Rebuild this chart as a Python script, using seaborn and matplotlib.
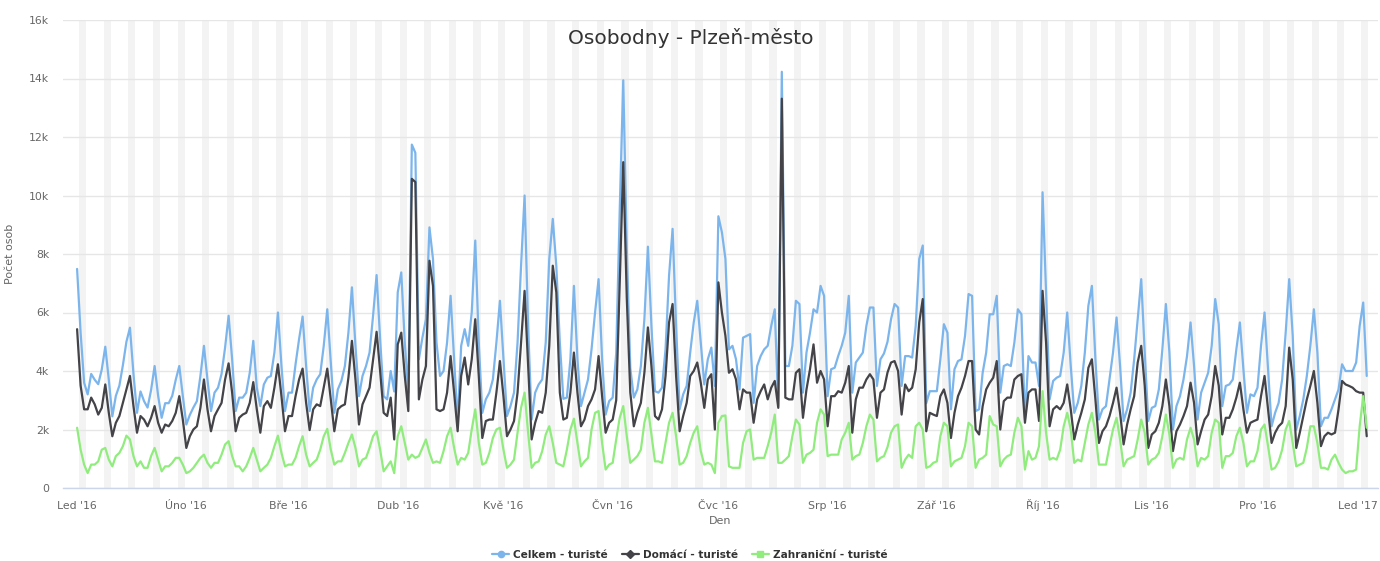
import seaborn as sns
import matplotlib.pyplot as plt
import matplotlib.transforms as mtransforms
import pandas as pd
from matplotlib.lines import Line2D

# denní počty osob v tisících, 1. 1. 2016 - 1. 1. 2017
celkem_k = [
    7.49, 5.3, 3.6, 3.2, 3.9, 3.7, 3.55,
    4.05, 4.83, 3.7, 2.45, 3.15, 3.5, 4.2,
    5.0, 5.48, 3.9, 2.57, 3.3, 2.97, 2.75,
    3.35, 4.17, 3.15, 2.4, 2.9, 2.9, 3.15,
    3.7, 4.17, 3.15, 2.17, 2.5, 2.75, 2.97,
    3.83, 4.86, 3.7, 2.63, 3.26, 3.43, 3.9,
    4.8, 5.89, 4.4, 2.63, 3.09, 3.09, 3.26,
    3.94, 5.03, 3.43, 2.8, 3.54, 3.77, 3.83,
    4.63, 6.0, 4.17, 2.63, 3.26, 3.26, 4.23,
    5.09, 5.86, 4.17, 2.63, 3.43, 3.71, 3.89,
    4.86, 6.11, 4.29, 2.57, 3.37, 3.66, 4.17,
    5.31, 6.86, 4.86, 3.14, 3.83, 4.17, 4.63,
    5.89, 7.28, 5.09, 3.14, 3.03, 4.0, 3.3,
    6.69, 7.37, 4.97, 3.26, 11.74, 11.46, 4.4,
    5.14, 5.77, 8.91, 7.83, 4.97, 3.83, 4.0,
    4.97, 6.57, 4.4, 2.23, 4.86, 5.43, 4.86,
    6.0, 8.46, 4.97, 2.57, 3.03, 3.26, 3.71,
    4.97, 6.4, 4.4, 2.46, 2.8, 3.26, 4.97,
    7.6, 10.0, 5.54, 2.34, 3.26, 3.54, 3.71,
    4.97, 7.83, 9.2, 7.6, 4.97, 3.05, 3.09,
    4.4, 6.91, 4.4, 2.8, 3.26, 3.71, 4.74,
    6.0, 7.14, 4.4, 2.51, 2.97, 3.09, 4.6,
    9.5, 13.94, 8.2, 4.1, 3.09, 3.37, 4.17,
    5.77, 8.25, 5.54, 3.31, 3.26, 3.43, 4.74,
    7.26, 8.86, 5.54, 2.69, 3.2, 3.49, 4.63,
    5.66, 6.4, 4.97, 3.54, 4.4, 4.8, 3.49,
    9.29, 8.74, 7.83, 4.74, 4.86, 4.4, 3.37,
    5.14, 5.2, 5.26, 2.91, 4.17, 4.51, 4.74,
    4.86, 5.54, 6.11, 2.8, 14.23, 4.17, 4.17,
    4.86, 6.4, 6.29, 3.26, 4.63, 5.31, 6.11,
    6.0, 6.91, 6.57, 3.14, 4.06, 4.11, 4.51,
    4.86, 5.31, 6.57, 3.26, 4.29, 4.46, 4.63,
    5.54, 6.17, 6.17, 3.49, 4.4, 4.6, 5.0,
    5.77, 6.29, 6.17, 3.49, 4.51, 4.51, 4.46,
    5.54, 7.83, 8.29, 2.9, 3.31, 3.31, 3.31,
    4.4, 5.6, 5.31, 2.69, 4.06, 4.34, 4.4,
    5.2, 6.63, 6.57, 2.63, 2.69, 3.94, 4.63,
    5.94, 5.94, 6.57, 3.26, 4.17, 4.23, 4.17,
    4.97, 6.11, 5.94, 2.34, 4.51, 4.29, 4.29,
    3.49, 10.11, 6.69, 3.03, 3.66, 3.77, 3.83,
    4.63, 6.0, 4.17, 2.57, 2.91, 3.49, 4.63,
    6.23, 6.91, 4.4, 2.34, 2.69, 2.8, 3.71,
    4.63, 5.83, 4.17, 2.29, 2.69, 3.26, 4.4,
    5.77, 7.14, 4.63, 2.29, 2.74, 2.8, 3.37,
    4.74, 6.29, 4.63, 2.0, 2.8, 3.14, 3.71,
    4.51, 5.66, 4.17, 2.34, 3.26, 3.6, 3.94,
    4.86, 6.46, 5.6, 2.8, 3.49, 3.54, 3.71,
    4.74, 5.66, 4.06, 2.57, 3.2, 3.14, 3.43,
    4.86, 6.0, 4.06, 2.11, 2.57, 2.91, 3.71,
    5.31, 7.14, 5.2, 2.0, 2.46, 3.03, 3.83,
    4.86, 6.11, 4.63, 2.11, 2.4, 2.4, 2.69,
    3.03, 3.37, 4.23, 4.0, 4.0, 4.0, 4.29,
    5.54, 6.34, 3.83,
]

domaci_k = [
    5.43, 3.5, 2.69, 2.69, 3.09, 2.86, 2.51,
    2.74, 3.54, 2.57, 1.77, 2.23, 2.46, 2.91,
    3.37, 3.83, 2.8, 1.89, 2.46, 2.34, 2.11,
    2.4, 2.8, 2.23, 1.89, 2.17, 2.11, 2.29,
    2.57, 3.14, 2.34, 1.37, 1.77, 2.0, 2.11,
    2.74, 3.71, 2.69, 1.94, 2.46, 2.69, 2.91,
    3.71, 4.26, 3.26, 1.94, 2.4, 2.51, 2.57,
    2.91, 3.62, 2.69, 1.89, 2.8, 2.97, 2.74,
    3.43, 4.23, 3.14, 1.94, 2.46, 2.46, 3.14,
    3.71, 4.08, 2.91, 1.98, 2.69, 2.86, 2.8,
    3.43, 4.08, 3.03, 1.94, 2.69, 2.8, 2.86,
    3.77, 5.03, 3.71, 2.17, 2.86, 3.14, 3.43,
    4.4, 5.34, 4.0, 2.57, 2.46, 3.09, 1.66,
    4.91, 5.31, 3.83, 2.63, 10.57, 10.46, 3.03,
    3.71, 4.17, 7.77, 6.91, 2.69, 2.63, 2.69,
    3.26, 4.51, 3.26, 1.94, 3.83, 4.46, 3.54,
    4.4, 5.77, 3.83, 1.71, 2.29, 2.34, 2.34,
    3.26, 4.34, 3.14, 1.77, 2.0, 2.29, 3.26,
    4.97, 6.74, 4.17, 1.66, 2.23, 2.63, 2.57,
    3.26, 4.86, 7.6, 6.69, 3.26, 2.34, 2.4,
    3.26, 4.63, 3.26, 2.11, 2.34, 2.8, 3.03,
    3.37, 4.51, 3.14, 1.89, 2.23, 2.34, 3.0,
    7.0, 11.14, 6.5, 3.26, 2.11, 2.57, 2.91,
    3.94, 5.49, 4.17, 2.46, 2.34, 2.69, 3.83,
    5.66, 6.29, 3.83, 1.94, 2.46, 2.91, 3.83,
    4.0, 4.29, 3.6, 2.74, 3.71, 3.89, 2.0,
    7.03, 6.0, 5.2, 3.94, 4.06, 3.71, 2.69,
    3.37, 3.26, 3.26, 2.23, 3.03, 3.31, 3.54,
    3.03, 3.43, 3.66, 2.74, 13.31, 3.09, 3.03,
    3.03, 3.94, 4.06, 2.4, 3.37, 4.06, 4.91,
    3.6, 4.0, 3.71, 2.11, 3.14, 3.14, 3.31,
    3.26, 3.6, 4.17, 1.89, 3.03, 3.43, 3.43,
    3.71, 3.89, 3.71, 2.4, 3.26, 3.37, 3.95,
    4.29, 4.34, 4.0, 2.51, 3.54, 3.31, 3.43,
    4.06, 5.66, 6.46, 1.94, 2.57, 2.51, 2.46,
    3.14, 3.37, 2.91, 1.71, 2.57, 3.14, 3.43,
    3.83, 4.34, 4.34, 2.0, 1.83, 2.8, 3.37,
    3.6, 3.77, 4.34, 2.0, 2.97, 3.09, 3.09,
    3.71, 3.83, 3.89, 2.23, 3.26, 3.37, 3.37,
    2.29, 6.74, 4.97, 2.11, 2.69, 2.8, 2.69,
    2.91, 3.54, 2.69, 1.66, 2.17, 2.57, 3.03,
    4.11, 4.4, 3.03, 1.54, 1.94, 2.11, 2.46,
    2.91, 3.43, 2.57, 1.49, 2.17, 2.69, 3.14,
    4.29, 4.86, 3.49, 1.37, 1.83, 1.94, 2.23,
    2.8, 3.71, 2.8, 1.26, 1.94, 2.17, 2.46,
    2.8, 3.6, 2.91, 1.49, 1.94, 2.34, 2.51,
    3.14, 4.17, 3.5, 1.83, 2.4, 2.4, 2.69,
    3.09, 3.6, 2.69, 1.89, 2.23, 2.29, 2.34,
    3.14, 3.83, 2.69, 1.54, 1.89, 2.11, 2.23,
    2.8, 4.8, 3.71, 1.37, 1.89, 2.46, 3.03,
    3.49, 4.0, 2.91, 1.43, 1.77, 1.89, 1.83,
    1.89, 2.69, 3.66, 3.54, 3.49, 3.43, 3.31,
    3.26, 3.26, 1.77,
]

zahranicni_k = [
    2.06, 1.31, 0.8, 0.51, 0.8, 0.8, 0.91,
    1.31, 1.37, 0.97, 0.74, 1.09, 1.2, 1.43,
    1.79, 1.66, 1.09, 0.74, 0.91, 0.69, 0.69,
    1.09, 1.37, 0.97, 0.57, 0.74, 0.74, 0.86,
    1.03, 1.03, 0.8, 0.51, 0.57, 0.69, 0.86,
    1.03, 1.14, 0.86, 0.69, 0.86, 0.86, 1.14,
    1.49, 1.6, 1.09, 0.74, 0.74, 0.57, 0.74,
    1.03, 1.37, 0.97, 0.57, 0.69, 0.8, 1.03,
    1.43, 1.79, 1.2, 0.74, 0.8, 0.8, 1.03,
    1.43, 1.77, 1.14, 0.74, 0.86, 0.97, 1.31,
    1.77, 2.02, 1.31, 0.8, 0.91, 0.91, 1.2,
    1.54, 1.83, 1.37, 0.74, 0.97, 1.03, 1.37,
    1.77, 1.94, 1.31, 0.57, 0.74, 0.91, 0.51,
    1.77, 2.11, 1.54, 0.97, 1.14, 1.03, 1.09,
    1.37, 1.66, 1.2, 0.86, 0.91, 0.86, 1.26,
    1.77, 2.06, 1.37, 0.8, 1.03, 0.97, 1.2,
    2.0, 2.69, 1.54, 0.8, 0.86, 1.2, 1.71,
    2.0, 2.06, 1.31, 0.69, 0.8, 0.97, 1.89,
    2.74, 3.26, 1.89, 0.69, 0.86, 0.91, 1.26,
    1.83, 2.11, 1.54, 0.86, 0.8, 0.74, 1.31,
    2.0, 2.37, 1.54, 0.74, 0.91, 1.03, 2.0,
    2.57, 2.63, 1.54, 0.63, 0.8, 0.86, 1.66,
    2.4, 2.8, 1.77, 0.86, 0.97, 1.09, 1.31,
    2.23, 2.74, 1.83, 0.91, 0.91, 0.86, 1.54,
    2.23, 2.57, 1.77, 0.8, 0.86, 1.09, 1.54,
    1.89, 2.11, 1.26, 0.8, 0.86, 0.8, 0.51,
    2.23, 2.46, 2.48, 0.74, 0.69, 0.69, 0.69,
    1.54, 1.94, 2.0, 0.97, 1.03, 1.03, 1.03,
    1.43, 1.89, 2.51, 0.86, 0.86, 0.97, 1.09,
    1.77, 2.34, 2.17, 0.86, 1.14, 1.2, 1.31,
    2.23, 2.69, 2.51, 1.09, 1.14, 1.14, 1.14,
    1.66, 1.89, 2.23, 0.97, 1.09, 1.14, 1.54,
    2.11, 2.51, 2.34, 0.91, 1.03, 1.09, 1.4,
    1.89, 2.11, 2.17, 0.69, 0.97, 1.14, 1.03,
    2.11, 2.23, 2.0, 0.69, 0.74, 0.86, 0.91,
    1.77, 2.23, 2.11, 0.74, 0.91, 0.97, 1.03,
    1.43, 2.23, 2.11, 0.69, 0.97, 1.03, 1.14,
    2.46, 2.17, 2.11, 0.74, 0.97, 1.09, 1.14,
    1.89, 2.4, 2.11, 0.63, 1.26, 0.97, 1.03,
    1.43, 3.31, 1.89, 0.97, 1.03, 0.97, 1.31,
    2.11, 2.57, 2.0, 0.86, 0.97, 0.91, 1.54,
    2.17, 2.57, 1.89, 0.8, 0.8, 0.8, 1.43,
    2.0, 2.4, 1.66, 0.74, 0.97, 1.03, 1.09,
    1.66, 2.34, 1.89, 0.8, 0.97, 1.03, 1.2,
    1.77, 2.51, 1.83, 0.69, 0.97, 1.03, 0.97,
    1.66, 2.06, 1.66, 0.74, 1.03, 0.97, 1.09,
    1.89, 2.34, 2.23, 0.69, 1.09, 1.09, 1.2,
    1.77, 2.06, 1.54, 0.74, 0.91, 0.91, 1.26,
    2.0, 2.17, 1.43, 0.63, 0.69, 0.91, 1.31,
    2.0, 2.29, 1.54, 0.74, 0.8, 0.86, 1.37,
    2.11, 2.11, 1.54, 0.69, 0.69, 0.63, 0.97,
    1.14, 0.86, 0.63, 0.51, 0.57, 0.57, 0.63,
    2.11, 3.14, 2.06,
]

mesice = ["Led '16", "Úno '16", "Bře '16", "Dub '16", "Kvě '16", "Čvn '16",
          "Čvc '16", "Srp '16", "Zář '16", "Říj '16", "Lis '16", "Pro '16", "Led '17"]
y_ticks = [0, 2000, 4000, 6000, 8000, 10000, 12000, 14000, 16000]
y_labels = ["0", "2k", "4k", "6k", "8k", "10k", "12k", "14k", "16k"]
nazvy = ["Celkem - turisté", "Domácí - turisté", "Zahraniční - turisté"]
barvy = ["#7cb5ec", "#434348", "#90ed7d"]
znacky = ["o", "D", "s"]

dny = pd.date_range("2016-01-01", periods=len(celkem_k), freq="D")
df = pd.DataFrame({"Den": dny, nazvy[0]: celkem_k, nazvy[1]: domaci_k, nazvy[2]: zahranicni_k})
df = df.melt(id_vars="Den", var_name="serie", value_name="pocet")
df["pocet"] = df["pocet"] * 1000

sns.set_theme(style="white")
plt.rcParams['font.family'] = ['DejaVu Sans']

fig = plt.figure(figsize=(13.8, 5.61), dpi=100)
ax = fig.add_axes([63 / 1380, 1 - 488 / 561, (1378 - 63) / 1380, (488 - 20) / 561])

# víkendy (so + ne) jako světlé pruhy
for d in dny[dny.dayofweek == 5]:
    ax.axvspan(d - pd.Timedelta(hours=12), d + pd.Timedelta(hours=36),
               color="#f3f3f3", lw=0, zorder=0)

sns.lineplot(data=df, x="Den", y="pocet", hue="serie", hue_order=nazvy,
             palette=barvy, linewidth=1.6, legend=False, ax=ax, zorder=3)

ax.set_xlim(dny[0] - pd.Timedelta(days=4), dny[0] + pd.Timedelta(days=369.2))
ax.set_ylim(0, 16000)

ax.set_yticks(y_ticks)
ax.set_yticklabels(y_labels)
ax.set_xticks(pd.date_range("2016-01-01", "2017-01-01", freq="MS"))
ax.set_xticklabels(mesice)

ax.set_axisbelow(True)
ax.yaxis.grid(True, color="#e6e6e6", lw=1)
ax.xaxis.grid(False)
for s in ["left", "right", "top"]:
    ax.spines[s].set_visible(False)
ax.spines["bottom"].set_color("#ccd6eb")
ax.spines["bottom"].set_linewidth(1)
ax.tick_params(axis="y", length=0, pad=10, labelsize=7.8, labelcolor="#666666")
ax.tick_params(axis="x", length=5, width=1, color="#ccd6eb", pad=10, labelsize=7.8, labelcolor="#666666")

# popisky měsíců zarovnané na účaří (háčky nad Ř nesmí popisek posunout)
for lab in ax.get_xticklabels():
    lab.set_verticalalignment("baseline")
posledni = ax.get_xticklabels()[-1]
posledni.set_horizontalalignment("right")
posledni.set_transform(posledni.get_transform() +
                       mtransforms.ScaledTranslation(11 / 100, 0, fig.dpi_scale_trans))

ax.set_xlabel("Den", fontsize=8, color="#666666", labelpad=4)
ax.set_ylabel("Počet osob", fontsize=8, color="#666666", labelpad=10)

fig.text(691 / 1380, 1 - 38 / 561, "Osobodny - Plzeň-město", ha="center", va="center",
         fontsize=14.5, color="#333333")

handles = [Line2D([0], [0], color=c, marker=m, markersize=4.5, lw=1.6) for c, m in zip(barvy, znacky)]
leg = fig.legend(handles, nazvy, loc="center", bbox_to_anchor=(0.5, 1 - 555 / 561), ncol=3,
                 frameon=False, handlelength=1.6, handletextpad=0.4, columnspacing=1.3,
                 prop={"size": 7.6, "weight": "bold"})
for t in leg.get_texts():
    t.set_color("#333333")

fig.savefig("out.png", dpi=100)
